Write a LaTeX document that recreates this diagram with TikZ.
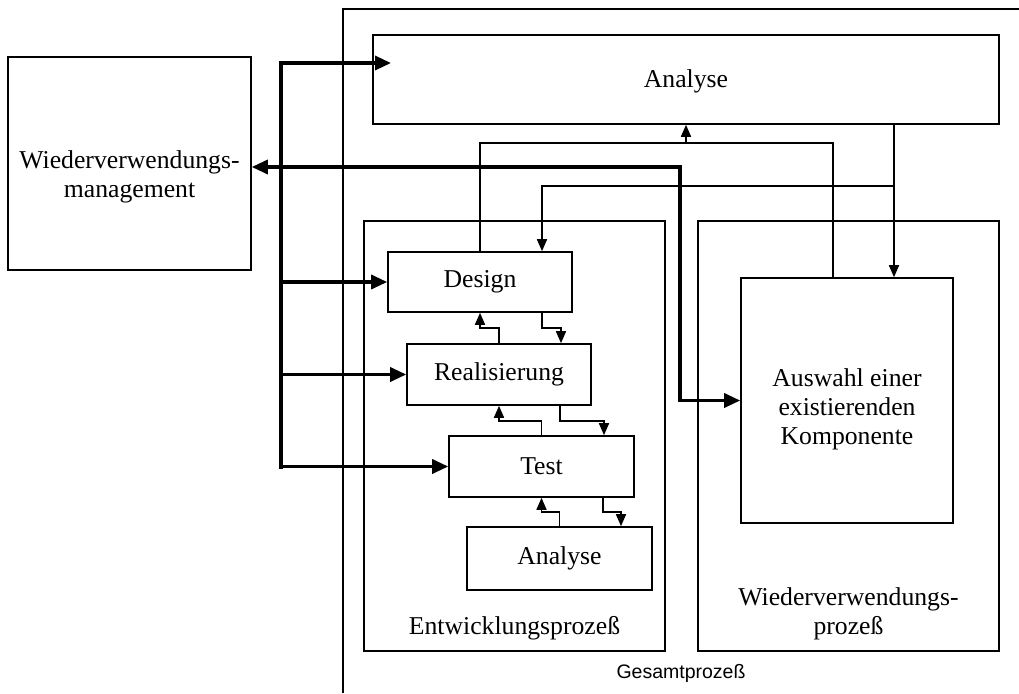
\documentclass[tikz,border=0pt]{standalone}
\usepackage{fontspec}
\setmainfont{Liberation Serif}
\setsansfont{Liberation Sans}
\usetikzlibrary{arrows.meta}
\tikzset{
  box/.style={draw, line width=1.6pt, rectangle, inner sep=0pt, align=center, font=\fontsize{25.7}{29}\selectfont},
  lbl/.style={inner sep=0pt, align=center, font=\fontsize{25.7}{29}\selectfont},
  thinline/.style={line width=1.6pt},
  thinarr/.style={line width=1.6pt, -{Triangle[length=12pt,width=10pt]}},
  thickline/.style={line width=3.3pt},
  thickarr/.style={line width=3.3pt, -{Triangle[length=16pt,width=14pt]}},
  thickboth/.style={line width=3.3pt, {Triangle[length=16pt,width=14pt]}-{Triangle[length=16pt,width=14pt]}},
}
\begin{document}
\begin{tikzpicture}[x=1pt,y=-1pt]
\useasboundingbox (0,0) rectangle (1019,693);
% outer Gesamtprozess frame
\draw[line width=1.6pt] (343,693) -- (343,9) -- (1019,9);
\node[font=\sffamily\fontsize{19.5}{23}\selectfont, inner sep=0pt] (gesamt) at (681,673) {Gesamtprozeß};
% boxes
\node[box, minimum width=626pt, minimum height=89pt] (analyse) at (686,79.5) {};
\node[lbl] (analysetext) at (686,81) {Analyse};
\node[box, minimum width=243pt, minimum height=213pt] (wm) at (129.5,163.5) {};
\node[lbl] (wmtext) at (129.5,177) {Wiederverwendungs-\\management};
\node[box, minimum width=301pt, minimum height=430pt] (entw) at (514.5,436) {};
\node[lbl] (entwtext) at (514.5,628) {Entwicklungsprozeß};
\node[box, minimum width=301pt, minimum height=430pt] (wvp) at (848.5,436) {};
\node[lbl] (wvptext) at (848.5,614) {Wiederverwendungs-\\prozeß};
\node[box, minimum width=184pt, minimum height=60pt] (design) at (480,282) {Design};
\node[box, minimum width=184pt, minimum height=61pt] (real) at (499,374.5) {Realisierung};
\node[box, minimum width=185pt, minimum height=61pt] (test) at (541.5,466.5) {Test};
\node[box, minimum width=185pt, minimum height=63pt] (analyse2) at (559.5,558.5) {Analyse};
\node[box, minimum width=212pt, minimum height=245pt] (auswahl) at (847,400.5) {};
\node[lbl] (auswahltext) at (847,409.5) {Auswahl einer\\existierenden\\Komponente};
% junction coordinates
\coordinate (j1) at (894,186);
\coordinate (j2) at (686,143);
\coordinate (tA) at (391,63);
% Analyse -> Auswahl and -> Design
\draw[thinarr] (894,0 |- analyse.south) -- (894,0 |- auswahl.north);
\draw[thinarr] (j1) -- (542,186) -- (542,0 |- design.north);
% Design, Auswahl -> Analyse
\draw[thinline] (design.north) -- (480,143) -- (833,143) -- (833,0 |- auswahl.north);
\draw[thinarr] (j2) -- (analyse.south);
% small feedback arrows
\draw[thinarr] (real.north) -- (499,328) -- (480,328) -- (design.south);
\draw[thinarr] (542,0 |- design.south) -- (542,328) -- (561,328) -- (561,0 |- real.north);
\draw[thinarr] (test.north) -- (541.5,421) -- (499,421) -- (real.south);
\draw[thinarr] (560,0 |- real.south) -- (560,421) -- (604,421) -- (604,0 |- test.north);
\draw[thinarr] (analyse2.north) -- (559.5,512) -- (541.5,512) -- (test.south);
\draw[thinarr] (603,0 |- test.south) -- (603,512) -- (621,512) -- (621,0 |- analyse2.north);
% thick management connectors
\draw[thickline] (281,61.4) -- (281,468.6);
\draw[thickarr] (279.35,63) -- (tA);
\draw[thickarr] (281,0 |- design.west) -- (design.west);
\draw[thickarr] (281,0 |- real.west) -- (real.west);
\draw[thickarr] (279.35,0 |- test.west) -- (test.west);
\draw[thickboth] (wm.east |- 0,167) -- (680,167) -- (680,0 |- auswahl.west) -- (auswahl.west);
\end{tikzpicture}
\end{document}
